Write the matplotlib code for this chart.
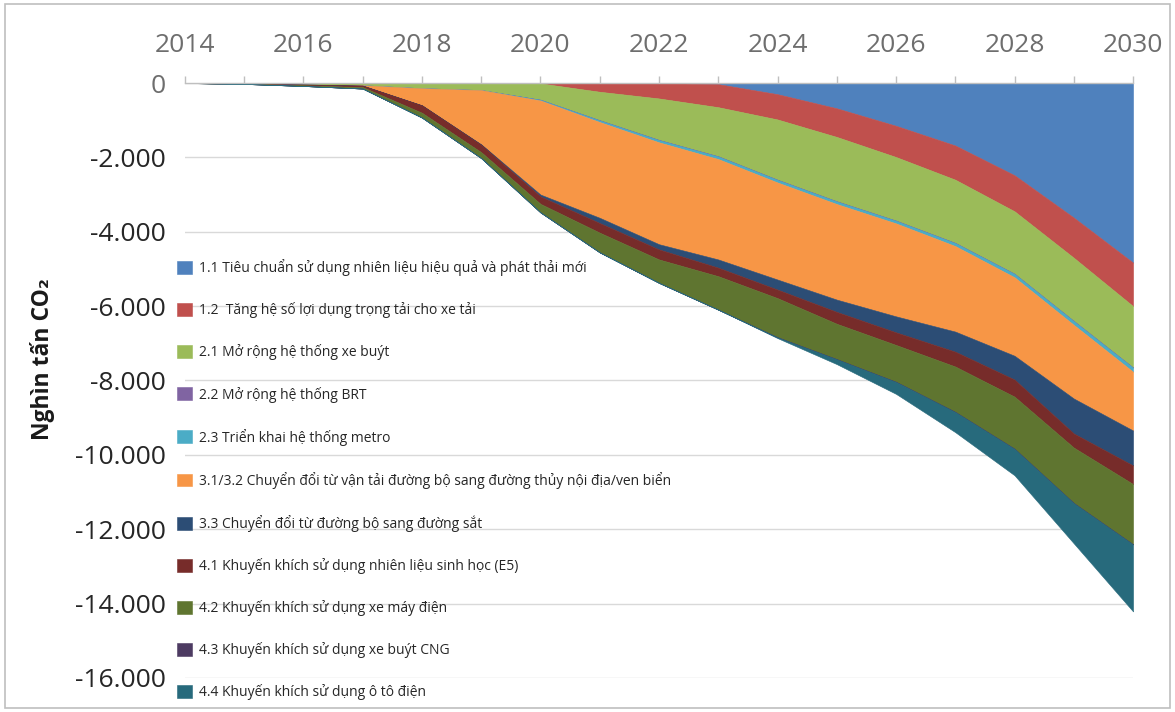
import matplotlib
matplotlib.use("Agg")
import matplotlib.pyplot as plt
from matplotlib.patches import Rectangle
from matplotlib.ticker import FuncFormatter

plt.rcParams["font.family"] = ["Open Sans", "DejaVu Sans"]

# ------------------------------
# DATA (nghìn tấn CO2, giảm phát thải theo năm)
# ------------------------------
years = list(range(2014, 2031))

labels = [
    "1.1 Tiêu chuẩn sử dụng nhiên liệu hiệu quả và phát thải mới",
    "1.2  Tăng hệ số lợi dụng trọng tải cho xe tải",
    "2.1 Mở rộng hệ thống xe buýt",
    "2.2 Mở rộng hệ thống BRT",
    "2.3 Triển khai hệ thống metro",
    "3.1/3.2 Chuyển đổi từ vận tải đường bộ sang đường thủy nội địa/ven biển",
    "3.3 Chuyển đổi từ đường bộ sang đường sắt",
    "4.1 Khuyến khích sử dụng nhiên liệu sinh học (E5)",
    "4.2 Khuyến khích sử dụng xe máy điện",
    "4.3 Khuyến khích sử dụng xe buýt CNG",
    "4.4 Khuyến khích sử dụng ô tô điện",
]

s11 = [0, 0, 0, 0, 0, 0, 0, 0, 0, -30, -300, -680, -1150, -1680, -2480, -3620, -4830]
s12 = [0, 0, 0, 0, 0, 0, -10, -235, -415, -620, -680, -770, -840, -920, -970, -1080, -1170]
s21 = [0, -15, -40, -60, -140, -190, -440, -765, -1115, -1320, -1620, -1730, -1710, -1700, -1680, -1700, -1650]
s22 = [0, 0, 0, 0, 0, 0, 0, -5, -5, -5, -5, -5, -5, -5, -5, -5, -5]
s23 = [0, 0, 0, 0, 0, 0, -20, -45, -60, -70, -70, -70, -70, -80, -90, -100, -110]
s31 = [0, 0, 0, -10, -460, -1460, -2530, -2575, -2740, -2700, -2610, -2570, -2500, -2300, -2110, -1980, -1580]
s33 = [0, 0, 0, 0, 0, -10, -50, -140, -140, -220, -270, -330, -430, -540, -640, -940, -940]
s41 = [0, -5, -20, -40, -200, -200, -200, -260, -270, -230, -230, -320, -340, -400, -460, -380, -500]
s42 = [0, -5, -20, -40, -130, -160, -230, -530, -630, -900, -1050, -950, -990, -1220, -1400, -1490, -1620]
s43 = [0, 0, 0, 0, 0, 0, 0, 0, 0, 0, -5, -5, -5, -5, -5, -5, -5]
s44 = [0, 0, 0, 0, 0, 0, 0, 0, 0, 0, -20, -130, -320, -540, -710, -1080, -1800]

series = [s11, s12, s21, s22, s23, s31, s33, s41, s42, s43, s44]

colors = ["#4F81BD", "#C0504D", "#9BBB59", "#8064A2", "#4BACC6", "#F79646",
          "#2C4D75", "#772C2A", "#5F7530", "#4D3B62", "#276A7C"]

# ------------------------------
# PLOT
# ------------------------------
fig = plt.figure(figsize=(11.75, 7.12), dpi=100)
ax = fig.add_axes([0.1574, 0.0478, 0.8069, 0.8356])

ax.stackplot(years, *series, colors=colors, labels=labels,
             linewidth=0.4, edgecolor="face", zorder=2)

ax.set_xlim(2014, 2030)
ax.set_ylim(-16000, 0)

# horizontal axis sits on the zero line, labels above
ax.xaxis.tick_top()
ax.set_xticks(years)
ax.set_xticklabels([str(y) if y % 2 == 0 else "" for y in years])
ax.tick_params(axis="x", length=5, width=1, color="#BFBFBF", pad=13,
               labelsize=19, labelcolor="#6E6E6E")

ax.set_yticks(range(-16000, 1, 2000))
ax.yaxis.set_major_formatter(FuncFormatter(lambda v, p: f"{int(v):,}".replace(",", ".")))
ax.tick_params(axis="y", length=0, pad=14, labelsize=19, labelcolor="#262626")
for t in ax.get_yticklabels():
    if t.get_text() == "0":
        t.set_color("#6E6E6E")

ax.grid(axis="y", color="#D9D9D9", linewidth=1)
ax.set_axisbelow(True)

for side in ["left", "right", "bottom"]:
    ax.spines[side].set_visible(False)
ax.spines["top"].set_color("#BFBFBF")
ax.spines["top"].set_linewidth(1)

fig.text(0.036, 0.496, "Nghìn tấn CO₂", rotation=90, ha="center", va="center",
         fontsize=16.5, fontweight="bold", color="#1A1A1A")

ax.legend(loc="upper left", bbox_to_anchor=(0.151, 0.636),
          bbox_transform=fig.transFigure, frameon=False, fontsize=10,
          handlelength=1.05, handleheight=1.05, handletextpad=0.5,
          labelspacing=1.88, borderpad=0, borderaxespad=0,
          labelcolor="#262626")

# thin frame round the whole picture
fig.patches.append(Rectangle((0.004, 0.006), 0.992, 0.988, transform=fig.transFigure,
                             fill=False, edgecolor="#BFBFBF", linewidth=1.2))

fig.savefig("out.png", dpi=100)
